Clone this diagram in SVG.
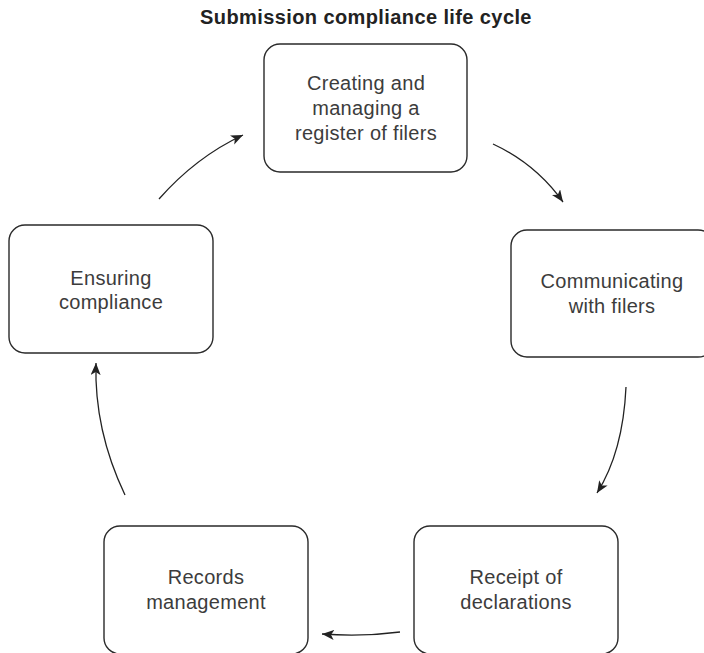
<svg xmlns="http://www.w3.org/2000/svg" width="704" height="653" viewBox="0 0 704 653">
<style>
.box{fill:#fff;stroke:#2a2a2a;stroke-width:1.4}
.lbl{font-family:"Liberation Sans",Arial,sans-serif;font-size:20px;letter-spacing:0.3px;fill:#3c3c3c;text-anchor:middle}
.title{font-family:"Liberation Sans",Arial,sans-serif;font-size:20px;font-weight:bold;letter-spacing:0.4px;fill:#222;text-anchor:middle}
.conn{fill:none;stroke:#222;stroke-width:1.3;marker-end:url(#ah)}
</style>
<defs>
<marker id="ah" markerUnits="userSpaceOnUse" markerWidth="14" markerHeight="12" refX="12" refY="5" orient="auto">
<path d="M0,0 L12,5 L0,10 L3,5 Z" fill="#222"/>
</marker>
</defs>
<rect width="704" height="653" fill="#fff"/>
<text class="title" x="366" y="24">Submission compliance life cycle</text>
<g id="connectors">
<path class="conn" d="M493,144 Q536,164 563,202"/>
<path class="conn" d="M626,387 Q623,452 597,493"/>
<path class="conn" d="M400,632 Q362,637 322,634"/>
<path class="conn" d="M125,495 Q94,430 96,363"/>
<path class="conn" d="M159,199 Q196,157 243,135"/>
</g>
<g id="node-register">
<rect class="box" x="264" y="44" width="203" height="128" rx="16"/>
<text class="lbl" x="366" y="90">Creating and<tspan x="366" dy="25">managing a</tspan><tspan x="366" dy="25">register of filers</tspan></text>
</g>
<g id="node-communicating">
<rect class="box" x="511" y="230" width="203" height="127" rx="16"/>
<text class="lbl" x="612" y="288">Communicating<tspan x="612" dy="25">with filers</tspan></text>
</g>
<g id="node-receipt">
<rect class="box" x="414" y="526" width="204" height="128" rx="16"/>
<text class="lbl" x="516" y="584">Receipt of<tspan x="516" dy="25">declarations</tspan></text>
</g>
<g id="node-records">
<rect class="box" x="104" y="526" width="204" height="128" rx="16"/>
<text class="lbl" x="206" y="584">Records<tspan x="206" dy="25">management</tspan></text>
</g>
<g id="node-ensuring">
<rect class="box" x="9" y="225" width="204" height="128" rx="16"/>
<text class="lbl" x="111" y="285">Ensuring<tspan x="111" dy="24">compliance</tspan></text>
</g>
</svg>
